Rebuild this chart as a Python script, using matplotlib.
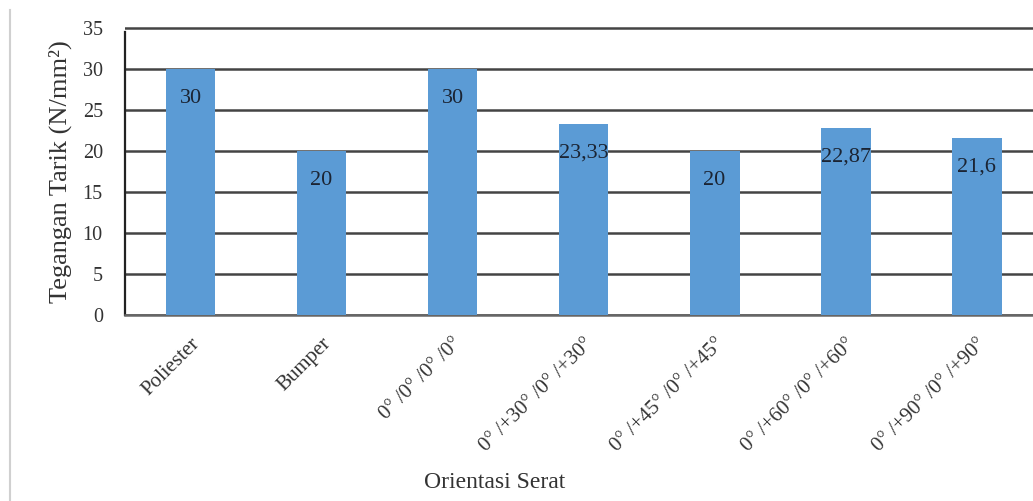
import matplotlib.pyplot as plt
from matplotlib.lines import Line2D

plt.rcParams['font.family'] = ['Liberation Serif', 'DejaVu Serif']

categories = ['Poliester', 'Bumper', '0° /0° /0° /0°', '0° /+30° /0° /+30°',
              '0° /+45° /0° /+45°', '0° /+60° /0° /+60°', '0° /+90° /0° /+90°']
values = [30, 20, 30, 23.33, 20, 22.87, 21.6]
value_labels = ['30', '20', '30', '23,33', '20', '22,87', '21,6']
yticks = [0, 5, 10, 15, 20, 25, 30, 35]

fig = plt.figure(figsize=(10.33, 5.01), dpi=100)
ax = fig.add_axes([125 / 1033, 1 - 315 / 501, 1 - 125 / 1033, (315 - 26) / 501])

x = list(range(len(categories)))
ax.bar(x, values, width=0.38, color='#5B9BD5', zorder=3)

# data labels sit just inside the top of each bar
for xi, v, lab in zip(x, values, value_labels):
    ax.annotate(lab, (xi, v), xytext=(0, -21), textcoords='offset points',
                ha='center', va='center', fontsize=16, color='#1b2433', zorder=4)

ax.set_ylim(0, 35.3)
ax.set_xlim(-0.5, 6.43)
ax.set_yticks(yticks)
ax.yaxis.grid(True, color='#444444', linewidth=1.8, zorder=1)
ax.set_axisbelow(True)
ax.tick_params(axis='y', length=0, pad=16, labelsize=14.5, labelcolor='#333333')
ax.tick_params(axis='x', length=0, pad=14, labelsize=15, labelcolor='#333333')
ax.set_xticks(x)
ax.set_xticklabels(categories, rotation=45, ha='right', rotation_mode='anchor')

for s in ['top', 'right']:
    ax.spines[s].set_visible(False)
ax.spines['bottom'].set_color('#666666')
ax.spines['bottom'].set_linewidth(1.8)
ax.spines['left'].set_color('#222222')
ax.spines['left'].set_linewidth(1.6)
ax.spines['left'].set_bounds(0, 34.6)

fig.text(60 / 1033, 1 - 172 / 501, 'Tegangan Tarik (N/mm²)', rotation=90,
         ha='center', va='center', fontsize=19, color='#333333')
fig.text(495 / 1033, 1 - 482 / 501, 'Orientasi Serat', ha='center', va='center',
         fontsize=17, color='#333333')

# faint frame on the left edge of the original picture
fig.add_artist(Line2D([10 / 1033, 10 / 1033], [0, 1 - 10 / 501],
                      transform=fig.transFigure, color='#d0d0d0', linewidth=1.5))

fig.savefig('out.png', dpi=100)
